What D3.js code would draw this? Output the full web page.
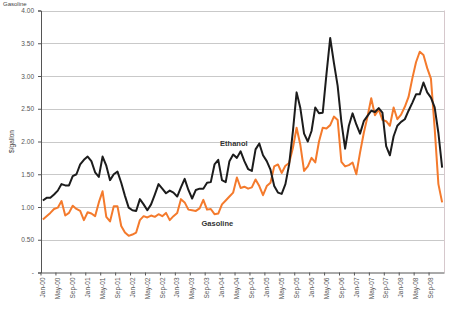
<!DOCTYPE html>
<html>
<head>
<meta charset="utf-8">
<script src="https://cdn.jsdelivr.net/npm/d3@7"></script>
<style>
  body { margin: 0; background: #fff; }
  svg { display: block; font-family: "Liberation Sans", Arial, sans-serif; }
</style>
</head>
<body>
<div id="container"></div>
<script>
// category labels: Jan-00 ... Dec-08
const monthNames = ["Jan","Feb","Mar","Apr","May","Jun","Jul","Aug","Sep","Oct","Nov","Dec"]
const years = ["00","01","02","03","04","05","06","07","08"]
const months = years.flatMap(y => monthNames.map(m => m + "-" + y))

// $/gallon, monthly
const ethanol = [
  1.10, 1.14, 1.14, 1.19, 1.25, 1.35, 1.33, 1.33, 1.47, 1.50, 1.65, 1.72,
  1.77, 1.70, 1.53, 1.46, 1.77, 1.63, 1.41, 1.50, 1.54, 1.37, 1.17, 0.99,
  0.95, 0.94, 1.12, 1.04, 0.95, 1.04, 1.19, 1.35, 1.28, 1.21, 1.25, 1.22,
  1.16, 1.30, 1.43, 1.26, 1.13, 1.26, 1.28, 1.28, 1.37, 1.38, 1.65, 1.72,
  1.41, 1.38, 1.70, 1.80, 1.75, 1.85, 1.70, 1.58, 1.55, 1.88, 1.97, 1.79,
  1.70, 1.57, 1.32, 1.22, 1.20, 1.35, 1.65, 2.15, 2.75, 2.51, 2.12, 2.00,
  2.16, 2.52, 2.43, 2.44, 3.03, 3.58, 3.20, 2.85, 2.30, 1.89, 2.24, 2.43,
  2.26, 2.12, 2.31, 2.39, 2.47, 2.45, 2.51, 2.44, 1.93, 1.79, 2.08, 2.24,
  2.30, 2.34, 2.47, 2.59, 2.72, 2.72, 2.90, 2.75, 2.67, 2.52, 2.13, 1.60
]
const gasoline = [
  0.81, 0.86, 0.91, 0.97, 0.99, 1.09, 0.87, 0.91, 1.02, 0.97, 0.94, 0.80,
  0.92, 0.90, 0.86, 1.07, 1.24, 0.85, 0.78, 1.01, 1.01, 0.71, 0.61, 0.56,
  0.58, 0.61, 0.80, 0.86, 0.84, 0.87, 0.85, 0.89, 0.86, 0.91, 0.80, 0.86,
  0.91, 1.12, 1.07, 0.96, 0.95, 0.94, 0.98, 1.11, 0.96, 0.97, 0.89, 0.90,
  1.04, 1.10, 1.16, 1.22, 1.45, 1.29, 1.31, 1.28, 1.30, 1.42, 1.32, 1.18,
  1.32, 1.37, 1.62, 1.65, 1.52, 1.63, 1.67, 1.90, 2.21, 1.95, 1.55, 1.62,
  1.75, 1.68, 2.00, 2.21, 2.20, 2.25, 2.38, 2.33, 1.69, 1.62, 1.64, 1.68,
  1.50, 1.83, 2.13, 2.38, 2.66, 2.40, 2.49, 2.33, 2.31, 2.24, 2.52, 2.34,
  2.41, 2.53, 2.68, 2.96, 3.21, 3.37, 3.32, 3.12, 2.96, 2.20, 1.35, 1.07
]
const yTicks = [0, 0.5, 1, 1.5, 2, 2.5, 3, 3.5, 4]

let width = 456
let height = 309
let margin = {top: 10.5, right: 12, bottom: 36.5, left: 41}

let svg = d3.select("#container")
    .append("svg")
    .attr("width", width)
    .attr("height", height)

let x = d3.scaleBand()
    .domain(months)
    .range([margin.left, width - margin.right])
    .padding(0)

let y = d3.scaleLinear()
    .domain([0, 4])
    .range([height - margin.bottom, margin.top])

let bw = x.bandwidth()

// gridlines
svg.append("g")
    .selectAll("line")
    .data(yTicks.filter(d => d > 0))
    .join("line")
        .attr("x1", margin.left)
        .attr("x2", width - margin.right)
        .attr("y1", d => Math.round(y(d)) + 0.5)
        .attr("y2", d => Math.round(y(d)) + 0.5)
        .attr("stroke", "#c9c9c9")
        .attr("stroke-width", 1)

// right border of plot area
svg.append("line")
    .attr("x1", width - margin.right + 0.5)
    .attr("x2", width - margin.right + 0.5)
    .attr("y1", margin.top)
    .attr("y2", height - margin.bottom)
    .attr("stroke", "#d6c8cc")

// y axis
svg.append("g")
    .attr("transform", `translate(${margin.left},0)`)
    .call(d3.axisLeft(y)
        .tickValues(yTicks)
        .tickSize(3)
        .tickPadding(4)
        .tickFormat(d => d === 0 ? "-" : d3.format(".2f")(d)))
    .call(g => g.select(".domain").attr("stroke", "#555"))
    .call(g => g.selectAll(".tick line").attr("stroke", "#555"))
    .call(g => g.selectAll("text").attr("fill", "#555").attr("font-size", 6.5))

// x axis
let xTicks = months.filter((d, i) => i % 4 === 0)
svg.append("g")
    .attr("transform", `translate(0,${height - margin.bottom})`)
    .call(d3.axisBottom(x)
        .tickValues(xTicks)
        .tickSize(3)
        .tickSizeOuter(0))
    .call(g => g.select(".domain").attr("stroke", "#555"))
    .call(g => g.selectAll(".tick line").attr("stroke", "#555").attr("x1", -bw / 2).attr("x2", -bw / 2))
    .call(g => g.selectAll("text")
        .attr("fill", "#555")
        .attr("font-size", 6.5)
        .attr("transform", "rotate(-90)")
        .attr("text-anchor", "end")
        .attr("x", -5)
        .attr("y", 0)
        .attr("dy", "0.35em"))

// lines
let line = d3.line()
    .x((d, i) => x(months[i]) + bw / 2)
    .y(d => y(d))

svg.append("path")
    .datum(gasoline)
    .attr("fill", "none")
    .attr("stroke", "#f47a2c")
    .attr("stroke-width", 2)
    .attr("stroke-linejoin", "round")
    .attr("d", line)

svg.append("path")
    .datum(ethanol)
    .attr("fill", "none")
    .attr("stroke", "#1c1c1c")
    .attr("stroke-width", 2)
    .attr("stroke-linejoin", "round")
    .attr("d", line)

// texts
svg.append("text")
    .attr("x", 3)
    .attr("y", 5.5)
    .attr("font-size", 6)
    .attr("fill", "#444")
    .text("Gasoline")

svg.append("text")
    .attr("transform", `translate(14,${y(2.0)}) rotate(-90)`)
    .attr("text-anchor", "middle")
    .attr("font-size", 6.5)
    .attr("fill", "#444")
    .text("$/gallon")

svg.append("text")
    .attr("x", x("Jan-04"))
    .attr("y", y(1.93))
    .attr("font-size", 7.5)
    .attr("font-weight", "bold")
    .attr("fill", "#333")
    .text("Ethanol")

svg.append("text")
    .attr("x", x("Aug-03"))
    .attr("y", y(0.71))
    .attr("font-size", 7.5)
    .attr("font-weight", "bold")
    .attr("fill", "#333")
    .text("Gasoline")
</script>
</body>
</html>
